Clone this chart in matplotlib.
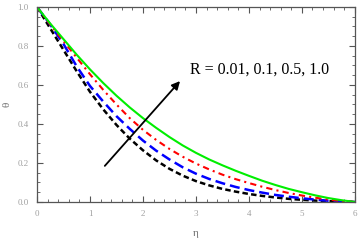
import matplotlib
matplotlib.use('Agg')
import matplotlib.pyplot as plt
from matplotlib.ticker import MultipleLocator

# eta grid and temperature profiles, one per R
eta = [0.0, 0.25, 0.5, 0.75, 1.0, 1.25, 1.5, 1.75, 2.0, 2.25, 2.5, 2.75, 3.0,
       3.25, 3.5, 3.75, 4.0, 4.25, 4.5, 4.75, 5.0, 5.25, 5.5, 5.75, 6.0]
theta_r001 = [1.0, 0.89, 0.78, 0.67, 0.565, 0.475, 0.395, 0.325, 0.265, 0.213, 0.17, 0.135, 0.107,
              0.085, 0.067, 0.053, 0.041, 0.031, 0.023, 0.016, 0.011, 0.007, 0.004, 0.0015, 0.0]
theta_r01 = [1.0, 0.91, 0.81, 0.695, 0.595, 0.515, 0.44, 0.375, 0.315, 0.263, 0.218, 0.178, 0.145,
             0.118, 0.096, 0.077, 0.061, 0.048, 0.036, 0.027, 0.019, 0.012, 0.006, 0.002, 0.0]
theta_r05 = [1.0, 0.91, 0.825, 0.74, 0.655, 0.575, 0.50, 0.43, 0.37, 0.318, 0.272, 0.232, 0.197,
             0.167, 0.14, 0.117, 0.097, 0.078, 0.061, 0.046, 0.033, 0.022, 0.012, 0.005, 0.0]
theta_r10 = [1.0, 0.915, 0.835, 0.755, 0.68, 0.61, 0.545, 0.485, 0.43, 0.38, 0.333, 0.29, 0.252,
             0.218, 0.188, 0.16, 0.134, 0.109, 0.087, 0.067, 0.05, 0.034, 0.02, 0.009, 0.0]

label_text = 'R = 0.01, 0.1, 0.5, 1.0'

fig = plt.figure(figsize=(3.61, 2.41), dpi=100)
ax = fig.add_axes([0.1025, 0.162, 0.8805, 0.809])

ax.plot(eta, theta_r001, color='black', lw=1.8, linestyle=(0, (2.2, 1.3)))
ax.plot(eta, theta_r01, color='#0000ff', lw=1.8, linestyle=(0, (4, 2)))
ax.plot(eta, theta_r05, color='#ff0000', lw=1.5, linestyle=(0, (3, 2, 1, 2)))
ax.plot(eta, theta_r10, color='#00ee00', lw=1.5)

ax.annotate('', xy=(2.70, 0.62), xytext=(1.28, 0.185),
            arrowprops=dict(arrowstyle='-|>', color='black', lw=1.3,
                            mutation_scale=12, shrinkA=0, shrinkB=0))
ax.text(2.89, 0.68, label_text, fontsize=11.5, family='Liberation Serif',
        va='center', ha='left')

ax.set_xlim(0, 6)
ax.set_ylim(0, 1.0)
ax.xaxis.set_major_locator(MultipleLocator(1))
ax.xaxis.set_minor_locator(MultipleLocator(0.2))
ax.yaxis.set_major_locator(MultipleLocator(0.2))
ax.yaxis.set_minor_locator(MultipleLocator(0.05))
ax.xaxis.set_major_formatter(plt.FuncFormatter(lambda v, p: '%d' % v))
ax.yaxis.set_major_formatter(plt.FuncFormatter(lambda v, p: '%.1f' % v))

ax.tick_params(which='both', direction='in', top=True, right=True,
               color='#555555', labelcolor='#a0a0a0', labelsize=6.5)
ax.tick_params(which='major', length=4, width=0.8, pad=6)
ax.tick_params(which='minor', length=2, width=0.6)
for lab in ax.get_xticklabels() + ax.get_yticklabels():
    lab.set_family('Liberation Serif')
for s in ax.spines.values():
    s.set_color('#555555')
    s.set_linewidth(0.9)

ax.set_xlabel('η', fontsize=8, color='#707070', family='Liberation Serif', labelpad=8)
ax.set_ylabel('θ', fontsize=8, color='#707070', family='Liberation Serif', labelpad=4)

fig.savefig('out.png', dpi=100)
